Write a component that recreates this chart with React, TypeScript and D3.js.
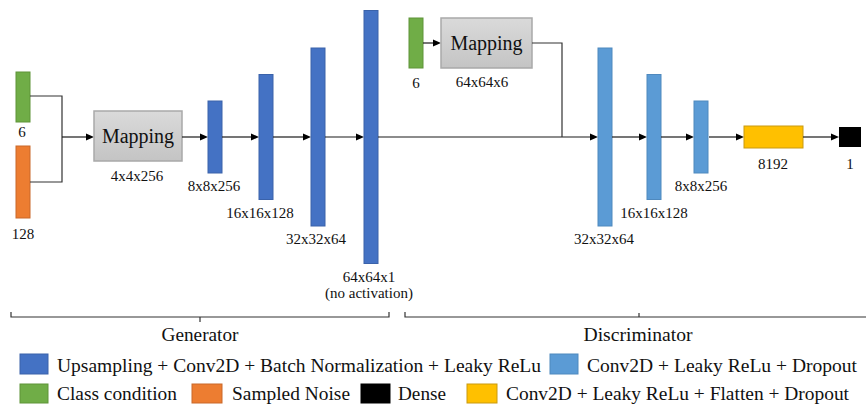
import React from "react";
import * as d3 from "d3";

// ---- data ----
const genLabels = ["8x8x256", "16x16x128", "32x32x64", "64x64x1"];
const genSizes = [8, 16, 32, 64];
const discLabels = ["32x32x64", "16x16x128", "8x8x256"];
const discSizes = [32, 16, 8];
const inputLabels = ["6", "128"];
const mappingLabels = ["4x4x256", "64x64x6"];
const denseLabels = ["8192", "1"];
const groupLabels = ["Generator", "Discriminator"];
const legendRow1 = [
  { key: "gen", text: "Upsampling + Conv2D + Batch Normalization + Leaky ReLu" },
  { key: "disc", text: "Conv2D + Leaky ReLu + Dropout" },
];
const legendRow2 = [
  { key: "cls", text: "Class condition" },
  { key: "noise", text: "Sampled Noise" },
  { key: "dense", text: "Dense" },
  { key: "flat", text: "Conv2D + Leaky ReLu + Flatten + Dropout" },
];

// ---- styles ----
const COLORS: Record<string, { fill: string; stroke: string }> = {
  gen: { fill: "#4472C4", stroke: "#3A62AA" },
  disc: { fill: "#5B9BD5", stroke: "#4F89BE" },
  cls: { fill: "#70AD47", stroke: "#5E9439" },
  noise: { fill: "#ED7D31", stroke: "#C9682A" },
  dense: { fill: "#000000", stroke: "#000000" },
  flat: { fill: "#FFC000", stroke: "#C99A10" },
};
const FONT = "'Liberation Serif'";

// ---- layout ----
const CY = 137;
const BAR_W = 14;
const heightScale = d3.scaleLinear().domain([8, 16, 32, 64]).range([72, 125, 178, 253]);
const genX = [208, 259, 311, 364];
const genLabelDx = [-1, -6, -2, -2];
const discX = [598, 647, 694];
const discLabelDx = [-1, 0, 0];

const legend1Layout = [
  { sx: 20, sw: 28, tx: 57, tw: 484 },
  { sx: 550, sw: 28, tx: 587, tw: 270 },
];
const legend2Layout = [
  { sx: 20, sw: 28, tx: 57, tw: 120 },
  { sx: 192, sw: 30, tx: 232, tw: 118 },
  { sx: 361, sw: 29, tx: 398, tw: 48 },
  { sx: 467, sw: 30, tx: 506, tw: 343 },
];

function Arrow({ x1, x2, y }: { x1: number; x2: number; y: number }) {
  return (
    <g>
      <line x1={x1} x2={x2 - 6} y1={y} y2={y} stroke="#1a1a1a" strokeWidth={1.2} />
      <path d={`M${x2},${y} L${x2 - 8},${y - 3.5} L${x2 - 8},${y + 3.5} Z`} fill="#000" />
    </g>
  );
}

function Label({ x, y, text, size = 15, anchor = "middle", tw }: any) {
  return (
    <text
      x={x}
      y={y}
      textAnchor={anchor}
      style={{ fontFamily: FONT, fontSize: size }}
      fill="#111"
      {...(tw ? { textLength: tw, lengthAdjust: "spacingAndGlyphs" } : {})}
    >
      {text}
    </text>
  );
}

function MappingBox({ x, y, w, h, id }: any) {
  return (
    <g>
      <rect x={x} y={y} width={w} height={h} fill={`url(#${id})`} stroke="#A9A9A9" strokeWidth={1.5} />
      <Label x={x + w / 2} y={y + h / 2 + 7} text="Mapping" size={20} />
    </g>
  );
}

export default function App() {
  const genBars = genSizes.map((s, i) => {
    const h = heightScale(s);
    return { x: genX[i], y: CY - h / 2, h, label: genLabels[i], dx: genLabelDx[i] };
  });
  const discBars = discSizes.map((s, i) => {
    const h = heightScale(s);
    return { x: discX[i], y: CY - h / 2, h, label: discLabels[i], dx: discLabelDx[i] };
  });

  return (
    <svg
      width={866}
      height={404}
      style={{ position: "absolute", left: 0, top: 0, background: "#fff" }}
    >
      <defs>
        <linearGradient id="mapg" x1="0" y1="0" x2="0" y2="1">
          <stop offset="0" stopColor="#DADADA" />
          <stop offset="1" stopColor="#C4C4C4" />
        </linearGradient>
      </defs>

      {/* Generator inputs */}
      <rect x={16} y={72} width={14} height={50} fill={COLORS.cls.fill} stroke={COLORS.cls.stroke} />
      <Label x={22} y={137} text={inputLabels[0]} />
      <rect x={16} y={146} width={14} height={72} fill={COLORS.noise.fill} stroke={COLORS.noise.stroke} />
      <Label x={23} y={239} text={inputLabels[1]} />
      <path d="M30,96 H62 V182 H30" fill="none" stroke="#333" strokeWidth={1.2} />
      <Arrow x1={62} x2={94} y={CY} />
      <MappingBox x={94} y={111} w={88} h={50} id="mapg" />
      <Label x={137} y={181} text={mappingLabels[0]} />
      <Arrow x1={182} x2={208} y={CY} />

      {/* Generator bars */}
      {genBars.map((b, i) => (
        <g key={"g" + i}>
          <rect x={b.x} y={b.y} width={BAR_W} height={b.h} fill={COLORS.gen.fill} stroke={COLORS.gen.stroke} />
          <Label x={b.x + BAR_W / 2 + b.dx} y={b.y + b.h + 18} text={b.label} />
          {i < genBars.length - 1 && <Arrow x1={b.x + BAR_W} x2={genBars[i + 1].x} y={CY} />}
        </g>
      ))}
      <Label x={369} y={298} text="(no activation)" />

      {/* Connection to discriminator */}
      <Arrow x1={378} x2={598} y={CY} />

      {/* Discriminator condition */}
      <rect x={409} y={18} width={14} height={50} fill={COLORS.cls.fill} stroke={COLORS.cls.stroke} />
      <Label x={416} y={88} text={inputLabels[0]} />
      <Arrow x1={423} x2={441} y={43} />
      <MappingBox x={441} y={18} w={91} h={50} id="mapg" />
      <Label x={482} y={87} text={mappingLabels[1]} />
      <path d={`M532,43 H562 V${CY}`} fill="none" stroke="#333" strokeWidth={1.2} />

      {/* Discriminator bars */}
      {discBars.map((b, i) => (
        <g key={"d" + i}>
          <rect x={b.x} y={b.y} width={BAR_W} height={b.h} fill={COLORS.disc.fill} stroke={COLORS.disc.stroke} />
          <Label x={b.x + BAR_W / 2 + b.dx} y={b.y + b.h + 18} text={b.label} />
          {i < discBars.length - 1 && <Arrow x1={b.x + BAR_W} x2={discBars[i + 1].x} y={CY} />}
        </g>
      ))}
      <Arrow x1={709} x2={744} y={CY} />
      <rect x={744} y={126} width={59} height={22} fill={COLORS.flat.fill} stroke={COLORS.flat.stroke} />
      <Label x={773} y={169} text={denseLabels[0]} />
      <Arrow x1={803} x2={839} y={CY} />
      <rect x={839} y={127} width={22} height={20} fill={COLORS.dense.fill} />
      <Label x={850} y={169} text={denseLabels[1]} />

      {/* Braces */}
      <path d="M11,312 V317 H389 V312 M200,317 V322" fill="none" stroke="#333" strokeWidth={1.2} />
      <path d="M405,312 V317 H866 M639,317 V313" fill="none" stroke="#333" strokeWidth={1.2} />
      <Label x={200} y={341} text={groupLabels[0]} size={18} tw={77} />
      <Label x={638} y={341} text={groupLabels[1]} size={18} tw={109} />

      {/* Legend */}
      {legendRow1.map((l, i) => {
        const p = legend1Layout[i];
        return (
          <g key={"l1" + i}>
            <rect x={p.sx} y={354} width={p.sw} height={20} fill={COLORS[l.key].fill} stroke={COLORS[l.key].stroke} />
            <Label x={p.tx} y={372} text={l.text} size={19} anchor="start" tw={p.tw} />
          </g>
        );
      })}
      {legendRow2.map((l, i) => {
        const p = legend2Layout[i];
        return (
          <g key={"l2" + i}>
            <rect x={p.sx} y={384} width={p.sw} height={19} fill={COLORS[l.key].fill} stroke={COLORS[l.key].stroke} />
            <Label x={p.tx} y={400} text={l.text} size={19} anchor="start" tw={p.tw} />
          </g>
        );
      })}
    </svg>
  );
}
